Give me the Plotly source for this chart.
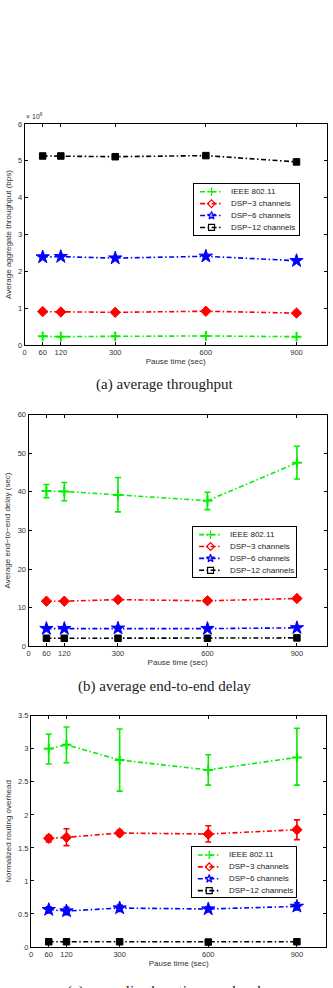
import plotly.graph_objects as go

W, H = 333, 988

pause = [60, 120, 300, 600, 900]
x_ticks = [0, 60, 120, 300, 600, 900]
names = ["IEEE 802.11", "DSP\u22123 channels", "DSP\u22126 channels", "DSP\u221212 channels"]
colors = ["#00f000", "#ff0000", "#0000ff", "#000000"]
symbols = ["cross-thin", "diamond", "star", "square"]
open_symbols = ["cross-thin", "diamond-open", "star-open", "square-open"]
msizes = [7, 8, 10, 6.5]
DASH = "5px,2.5px,1.5px,2.5px"

# (a) throughput, x 10^6 bps
thr_ieee = [0.24, 0.23, 0.24, 0.25, 0.23]
thr_dsp3 = [0.91, 0.90, 0.89, 0.92, 0.87]
thr_dsp6 = [2.39, 2.40, 2.36, 2.41, 2.29]
thr_dsp12 = [5.13, 5.13, 5.11, 5.14, 4.97]

# (b) delay (sec)
del_ieee = [40.2, 40.1, 39.2, 37.7, 47.5]
del_ieee_hi = [41.9, 42.4, 43.7, 39.9, 51.8]
del_ieee_lo = [38.5, 37.7, 34.8, 35.4, 43.3]
del_dsp3 = [11.7, 11.7, 12.1, 11.8, 12.4]
del_dsp6 = [4.6, 4.6, 4.7, 4.6, 4.8]
del_dsp12 = [2.1, 2.1, 2.1, 2.1, 2.2]

# (c) normalized routing overhead
ovh_ieee = [3.00, 3.06, 2.83, 2.68, 2.87]
ovh_ieee_hi = [3.22, 3.33, 3.30, 2.91, 3.31]
ovh_ieee_lo = [2.77, 2.79, 2.36, 2.45, 2.45]
ovh_dsp3 = [1.645, 1.66, 1.725, 1.71, 1.775]
ovh_dsp3_hi = [1.69, 1.79, 1.765, 1.835, 1.925]
ovh_dsp3_lo = [1.59, 1.535, 1.685, 1.59, 1.625]
ovh_dsp6 = [0.565, 0.545, 0.59, 0.575, 0.615]
ovh_dsp6_hi = [0.61, 0.60, 0.635, 0.61, 0.67]
ovh_dsp6_lo = [0.515, 0.49, 0.54, 0.535, 0.56]
ovh_dsp12 = [0.08, 0.08, 0.08, 0.075, 0.08]

captions = ["(a) average throughput", "(b) average end-to-end delay", "(c) normalized routing overhead"]
ytitles = ["Average aggregate throughput (bps)", "Average end\u2212to\u2212end delay (sec)", "Normalized routing overhead"]

# pixel boxes: (left, right, top, bottom)
boxes = [(22.7, 326.7, 121.0, 344.3), (26.7, 326.7, 414.3, 648.3), (29.2, 326.4, 718.3, 951.7)]
leg_boxes = [(193.3, 298.3, 181.7, 232.7), (192.3, 296.0, 527.7, 578.3), (191.0, 295.3, 851.0, 901.0)]
ROW0, ROWGAP = 7.8, 12.0
SAMPLE_X0, SAMPLE_X1, MARK_X, TEXT_X = 6.0, 29.0, 17.5, 35.0

fig = go.Figure()


def add_series(k, ys, hi=None, lo=None):
    ax = "" if k == 0 else str(k + 1)
    for i, y in enumerate(ys):
        err = None
        if hi is not None and hi[i] is not None:
            err = dict(type="data", symmetric=False,
                       array=[h - v for h, v in zip(hi[i], y)],
                       arrayminus=[v - l for v, l in zip(y, lo[i])],
                       color=colors[i], thickness=1.6, width=3)
        fig.add_trace(go.Scatter(
            x=pause, y=y, mode="lines+markers", showlegend=False, hoverinfo="skip",
            line=dict(color=colors[i], width=1.6, dash=DASH),
            marker=dict(symbol=symbols[i], size=msizes[i], color=colors[i],
                        line=dict(color=colors[i], width=2 if i == 0 else 1)),
            error_y=err, xaxis="x" + ax, yaxis="y" + ax))
    # manual legend on its own small axis
    la = str(k + 4)
    for i in range(4):
        fig.add_trace(go.Scatter(
            x=[SAMPLE_X0, SAMPLE_X1], y=[i, i], mode="lines", showlegend=False, hoverinfo="skip",
            line=dict(color=colors[i], width=1.6, dash=DASH),
            xaxis="x" + la, yaxis="y" + la))
        fig.add_trace(go.Scatter(
            x=[MARK_X], y=[i], mode="markers", showlegend=False, hoverinfo="skip",
            marker=dict(symbol=open_symbols[i], size=6, color=colors[i],
                        line=dict(color=colors[i], width=1.2)),
            xaxis="x" + la, yaxis="y" + la))


add_series(0, [thr_ieee, thr_dsp3, thr_dsp6, thr_dsp12])
add_series(1, [del_ieee, del_dsp3, del_dsp6, del_dsp12],
           [del_ieee_hi, None, None, None], [del_ieee_lo, None, None, None])
add_series(2, [ovh_ieee, ovh_dsp3, ovh_dsp6, ovh_dsp12],
           [ovh_ieee_hi, ovh_dsp3_hi, ovh_dsp6_hi, None],
           [ovh_ieee_lo, ovh_dsp3_lo, ovh_dsp6_lo, None])

tickfont = dict(family="Liberation Sans, Arial", size=7.5, color="#333")
titlefont = dict(family="Liberation Sans, Arial", size=8, color="#333")
legfont = dict(family="Liberation Sans, Arial", size=8, color="#222")
yranges = [[0, 6], [0, 60], [0, 3.5]]
ydticks = [1, 10, 0.5]

layout = dict(width=W, height=H, margin=dict(l=0, r=0, t=0, b=0), showlegend=False,
              paper_bgcolor="white", plot_bgcolor="white", annotations=[])
for k, (l, r, t, b) in enumerate(boxes):
    ax = "" if k == 0 else str(k + 1)
    common = dict(showline=True, linecolor="#000", linewidth=1, mirror="ticks",
                  ticks="inside", ticklen=3, tickcolor="#000", showgrid=False,
                  zeroline=False, tickfont=tickfont, fixedrange=True)
    layout["xaxis" + ax] = dict(common, domain=[l / W, r / W], range=[0, 1000],
                                tickvals=x_ticks, anchor="y" + ax,
                                title=dict(text="Pause time (sec)", font=titlefont, standoff=2))
    layout["yaxis" + ax] = dict(common, domain=[1 - b / H, 1 - t / H], range=yranges[k],
                                dtick=ydticks[k], tick0=0, anchor="x" + ax,
                                title=dict(text=ytitles[k], font=titlefont, standoff=5))
    # legend axes
    ll, lr, lt, lb = leg_boxes[k]
    la = str(k + 4)
    lh = lb - lt
    legax = dict(showline=True, linecolor="#000", linewidth=1, mirror=True, ticks="",
                 showticklabels=False, showgrid=False, zeroline=False, fixedrange=True)
    layout["xaxis" + la] = dict(legax, domain=[ll / W, lr / W], range=[0, lr - ll], anchor="y" + la)
    layout["yaxis" + la] = dict(legax, domain=[1 - lb / H, 1 - lt / H],
                                range=[(lh - ROW0) / ROWGAP, -ROW0 / ROWGAP], anchor="x" + la)
    for i in range(4):
        layout["annotations"].append(dict(
            text=names[i], x=TEXT_X, xref="x" + la, y=i, yref="y" + la,
            xanchor="left", yanchor="middle", showarrow=False, font=legfont))

cap_y = [384.5, 688.5, 997]
for k in range(3):
    layout["annotations"].append(dict(
        text=captions[k], x=0.49, xref="paper", y=1 - cap_y[k] / H, yref="paper",
        xanchor="center", yanchor="middle", showarrow=False,
        font=dict(family="Liberation Serif, Times New Roman", size=15, color="#222")))
layout["annotations"].append(dict(
    text="\u00d7 10<sup>6</sup>", x=22.5 / W, xref="paper", y=1 - 113 / H, yref="paper",
    xanchor="left", yanchor="middle", showarrow=False,
    font=dict(family="Liberation Sans, Arial", size=7, color="#333")))

fig.update_layout(**layout)
fig.write_html("out.html")
